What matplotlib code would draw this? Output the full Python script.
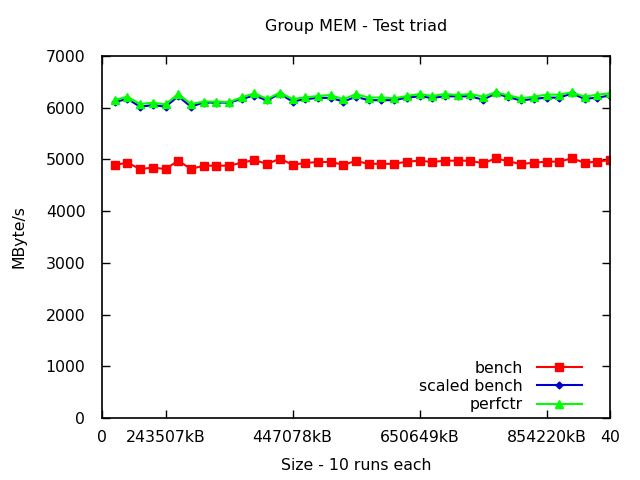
import matplotlib
matplotlib.use("Agg")
import matplotlib.pyplot as plt

# Data (run index 1..40)
runs = list(range(1, 41))

bench = [4892, 4937, 4815, 4841, 4815, 4976, 4815, 4879, 4879, 4879,
         4937, 4989, 4911, 5015, 4898, 4931, 4950, 4950, 4898, 4970,
         4915, 4915, 4915, 4957, 4976, 4950, 4976, 4976, 4976, 4924,
         5021, 4963, 4911, 4937, 4957, 4957, 5021, 4937, 4957, 4989]

scaled_bench = [6110, 6170, 6020, 6050, 6020, 6220, 6020, 6100, 6100, 6100,
                6170, 6235, 6140, 6270, 6120, 6165, 6190, 6190, 6120, 6210,
                6145, 6145, 6145, 6195, 6220, 6190, 6220, 6220, 6220, 6155,
                6275, 6205, 6140, 6170, 6195, 6195, 6275, 6170, 6195, 6235]

perfctr = [6149, 6213, 6072, 6098, 6066, 6265, 6072, 6117, 6117, 6110,
           6200, 6278, 6168, 6291, 6168, 6200, 6226, 6246, 6162, 6265,
           6194, 6200, 6181, 6226, 6265, 6226, 6265, 6246, 6265, 6213,
           6297, 6239, 6181, 6213, 6252, 6252, 6297, 6213, 6252, 6278]

xtick_pos = [0, 5, 15, 25, 35, 40]
xtick_labels = ["0", "243507kB", "447078kB", "650649kB", "854220kB", "40"]

plt.rcParams['font.family'] = ['DejaVu Sans']
plt.rcParams['font.size'] = 11.3

fig = plt.figure(figsize=(6.4, 4.8), dpi=100)
ax = fig.add_axes([102 / 640, 1 - 418 / 480, 508 / 640, 362 / 480])

ax.plot(runs, bench, color='#ff0000', lw=1.5, marker='s', ms=5.5,
        label='bench')
ax.plot(runs, scaled_bench, color='#0000cc', lw=1.5, marker='D', ms=3.5,
        label='scaled bench')
ax.plot(runs, perfctr, color='#00ff00', lw=1.5, marker='^', ms=6,
        label='perfctr')

ax.set_xlim(0, 40)
ax.set_ylim(0, 7000)
ax.set_xticks(xtick_pos)
ax.set_xticklabels(xtick_labels)
ax.set_yticks(range(0, 7001, 1000))
ax.tick_params(direction='in', top=True, right=True, length=6, width=1,
               colors='black')
ax.tick_params(axis='y', pad=12)
ax.tick_params(axis='x', pad=9)
for sp in ax.spines.values():
    sp.set_linewidth(1.2)

ax.set_title('Group MEM - Test triad', pad=18, fontsize=11.5)
ax.set_xlabel('Size - 10 runs each', labelpad=9)
ax.set_ylabel('MByte/s', labelpad=14)

leg = ax.legend(loc='lower right', bbox_to_anchor=(0.967, -0.014),
                frameon=False, markerfirst=False,
                handlelength=2.9, labelspacing=0.2, borderaxespad=0.3,
                handletextpad=0.9)
for t in leg.get_texts():
    t.set_ha('right')

fig.savefig('out.png', dpi=100)
